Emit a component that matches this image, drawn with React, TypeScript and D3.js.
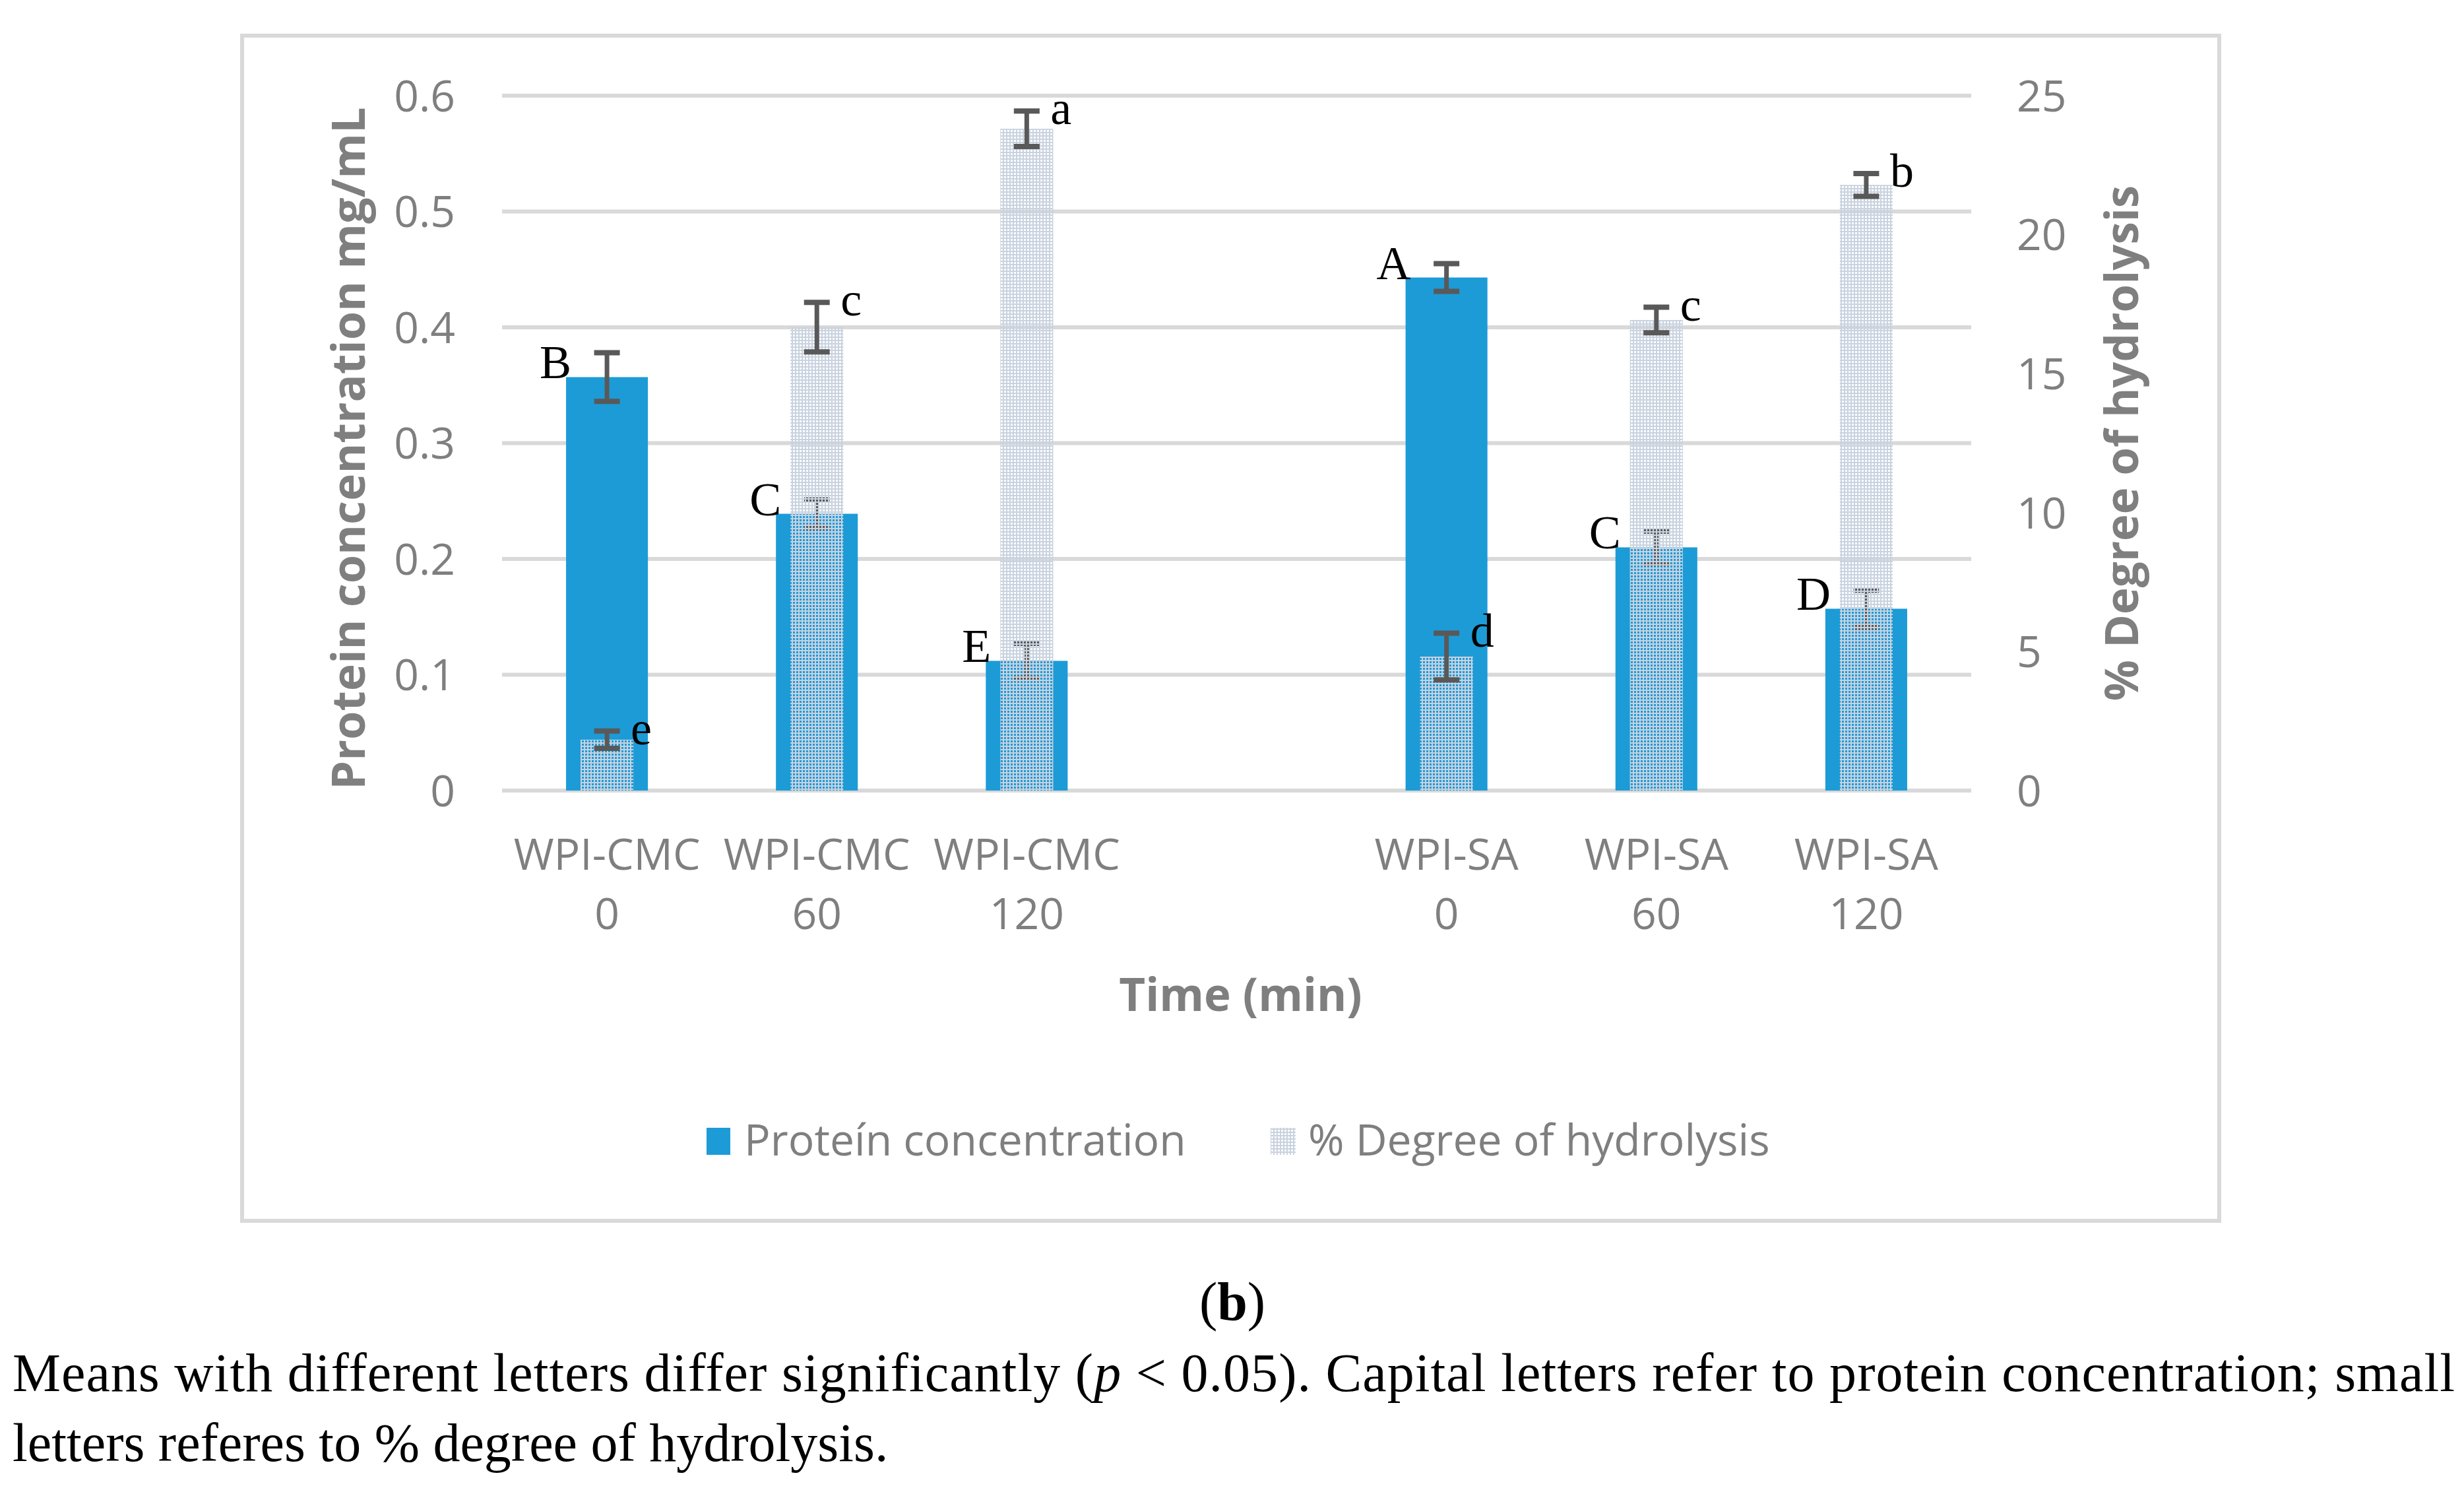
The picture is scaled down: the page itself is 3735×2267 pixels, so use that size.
import React from "react";
import * as d3 from "d3";

const categoryLine1 = ["WPI-CMC", "WPI-CMC", "WPI-CMC", "", "WPI-SA", "WPI-SA", "WPI-SA"];
const categoryLine2 = ["0", "60", "120", "", "0", "60", "120"];
const proteinValues: (number | null)[] = [0.357, 0.239, 0.112, null, 0.443, 0.21, 0.157];
const proteinErrors: (number | null)[] = [0.021, 0.012, 0.015, null, 0.012, 0.014, 0.016];
const hydrolysisValues: (number | null)[] = [1.83, 16.67, 23.81, null, 4.82, 16.93, 21.79];
const hydrolysisErrors: (number | null)[] = [0.31, 0.89, 0.64, null, 0.84, 0.46, 0.41];
const proteinLetters = ["B", "C", "E", "", "A", "C", "D"];
const hydrolysisLetters = ["e", "c", "a", "", "d", "c", "b"];
const leftTicks = [0, 0.1, 0.2, 0.3, 0.4, 0.5, 0.6];
const rightTicks = [0, 5, 10, 15, 20, 25];

const W = 3735;
const H = 2267;
const plotLeft = 761;
const plotRight = 2988;
const plotTop = 145;
const plotBottom = 1198;

const BLUE = "#1d9bd7";
const GRID = "#d9d9d9";
const AXIS_TEXT = "#7f7f7f";
const ERR = "#595959";
const HATCH = "#c9d2df";
const SANS = "'Open Sans', sans-serif";
const SERIF = "'Liberation Serif', 'Times New Roman', serif";

export default function App() {
  const idx = categoryLine1.map((_, i) => String(i));
  const xP = d3.scaleBand().domain(idx).range([plotLeft, plotRight]).paddingInner(0.61).paddingOuter(0.305);
  const xH = d3.scaleBand().domain(idx).range([plotLeft, plotRight]).paddingInner(0.748).paddingOuter(0.374);
  const xC = d3.scaleBand().domain(idx).range([plotLeft, plotRight]);
  const yL = d3.scaleLinear().domain([0, 0.6]).range([plotBottom, plotTop]);
  const yR = d3.scaleLinear().domain([0, 25]).range([plotBottom, plotTop]);
  const cx = (i: number) => (xC(String(i)) as number) + xC.bandwidth() / 2;
  const capHalf = 19.5;

  const errorBar = (x: number, y1: number, y2: number, key: string) => (
    <g key={key} stroke={ERR} strokeWidth={7} strokeLinecap="butt">
      <line x1={x} x2={x} y1={y1} y2={y2} />
      <line x1={x - capHalf} x2={x + capHalf} y1={y1} y2={y1} strokeWidth={8} />
      <line x1={x - capHalf} x2={x + capHalf} y1={y2} y2={y2} strokeWidth={8} />
    </g>
  );

  return (
    <svg
      width={W}
      height={H}
      viewBox={`0 0 ${W} ${H}`}
      style={{ position: "absolute", left: 0, top: 0, display: "block", background: "#fff" }}
    >
      <defs>
        <pattern id="hydro" width={5} height={5} patternUnits="userSpaceOnUse">
          <rect x={0} y={0} width={5} height={2} fill={HATCH} />
          <rect x={0} y={2} width={2} height={3} fill={HATCH} />
        </pattern>
      </defs>
      <rect x={0} y={0} width={W} height={H} fill="#fff" />
      {/* chart frame */}
      <rect x={367} y={54} width={3364 - 367} height={1850 - 54} fill="none" stroke={GRID} strokeWidth={6} />

      {/* gridlines */}
      {leftTicks.map((t) => (
        <line key={"g" + t} x1={plotLeft} x2={plotRight} y1={yL(t)} y2={yL(t)} stroke={GRID} strokeWidth={6} />
      ))}

      {/* left tick labels */}
      {leftTicks.map((t) => (
        <text key={"l" + t} x={690} y={yL(t)} dy="0.36em" textAnchor="end" fontFamily={SANS} fontSize={66} fill={AXIS_TEXT}>
          {t === 0 ? "0" : String(t)}
        </text>
      ))}
      {/* right tick labels */}
      {rightTicks.map((t) => (
        <text key={"r" + t} x={3057} y={yR(t)} dy="0.36em" textAnchor="start" fontFamily={SANS} fontSize={66} fill={AXIS_TEXT}>
          {t}
        </text>
      ))}

      {/* axis titles */}
      <text
        transform={`translate(553, ${(plotTop + plotBottom) / 2 + 8}) rotate(-90)`}
        textAnchor="middle"
        fontFamily={SANS}
        fontWeight="bold"
        fontSize={70}
        fill={AXIS_TEXT}
      >
        Protein concentration mg/mL
      </text>
      <text
        transform={`translate(3241, ${(plotTop + plotBottom) / 2}) rotate(-90)`}
        textAnchor="middle"
        fontFamily={SANS}
        fontWeight="bold"
        fontSize={69}
        fill={AXIS_TEXT}
      >
        % Degree of hydrolysis
      </text>

      {/* protein bars */}
      {proteinValues.map((v, i) =>
        v == null ? null : (
          <rect key={"pb" + i} x={xP(String(i))} y={yL(v)} width={xP.bandwidth()} height={yL(0) - yL(v)} fill={BLUE} />
        )
      )}
      {/* protein error bars */}
      {proteinValues.map((v, i) =>
        v == null ? null : errorBar(cx(i), yL(v + (proteinErrors[i] as number)), yL(v - (proteinErrors[i] as number)), "pe" + i)
      )}
      {/* hydrolysis bars */}
      {hydrolysisValues.map((v, i) =>
        v == null ? null : (
          <rect key={"hb" + i} x={xH(String(i))} y={yR(v)} width={xH.bandwidth()} height={yR(0) - yR(v)} fill="url(#hydro)" />
        )
      )}
      {/* hydrolysis error bars */}
      {hydrolysisValues.map((v, i) =>
        v == null ? null : errorBar(cx(i), yR(v + (hydrolysisErrors[i] as number)), yR(v - (hydrolysisErrors[i] as number)), "he" + i)
      )}

      {/* significance letters */}
      {proteinValues.map((v, i) =>
        v == null ? null : (
          <text key={"pl" + i} x={(xP(String(i)) as number) + 8} y={yL(v) + 2} textAnchor="end" fontFamily={SERIF} fontSize={72} fill="#000">
            {proteinLetters[i]}
          </text>
        )
      )}
      {hydrolysisValues.map((v, i) =>
        v == null ? null : (
          <text key={"hl" + i} x={cx(i) + 36} y={yR(v + (hydrolysisErrors[i] as number)) + 20} textAnchor="start" fontFamily={SERIF} fontSize={72} fill="#000">
            {hydrolysisLetters[i]}
          </text>
        )
      )}

      {/* category labels */}
      {categoryLine1.map((c, i) =>
        c === "" ? null : (
          <g key={"c" + i}>
            <text x={cx(i)} y={1318} textAnchor="middle" fontFamily={SANS} fontSize={66} fill={AXIS_TEXT}>
              {c}
            </text>
            <text x={cx(i)} y={1408} textAnchor="middle" fontFamily={SANS} fontSize={66} fill={AXIS_TEXT}>
              {categoryLine2[i]}
            </text>
          </g>
        )
      )}
      <text x={(plotLeft + plotRight) / 2 + 6} y={1532} textAnchor="middle" fontFamily={SANS} fontWeight="bold" fontSize={69} fill={AXIS_TEXT}>
        Time (min)
      </text>

      {/* legend */}
      <rect x={1071} y={1709} width={36} height={41} fill={BLUE} />
      <text x={1128} y={1751} fontFamily={SANS} fontSize={66} fill={AXIS_TEXT}>
        Proteín concentration
      </text>
      <rect x={1926} y={1709} width={38} height={41} fill="url(#hydro)" />
      <text x={1983} y={1751} fontFamily={SANS} fontSize={66} fill={AXIS_TEXT}>
        % Degree of hydrolysis
      </text>

      {/* caption */}
      <text x={1868} y={2000} textAnchor="middle" fontFamily={SERIF} fontSize={82} fill="#000">
        (<tspan fontWeight="bold">b</tspan>)
      </text>
      <text x={19} y={2108} fontFamily={SERIF} fontSize={82} fill="#000" textLength={3702} lengthAdjust="spacing">
        Means with different letters differ significantly (<tspan fontStyle="italic">p</tspan> &lt; 0.05). Capital letters refer to protein concentration; small
      </text>
      <text x={19} y={2214} fontFamily={SERIF} fontSize={82} fill="#000">
        letters referes to % degree of hydrolysis.
      </text>
    </svg>
  );
}
